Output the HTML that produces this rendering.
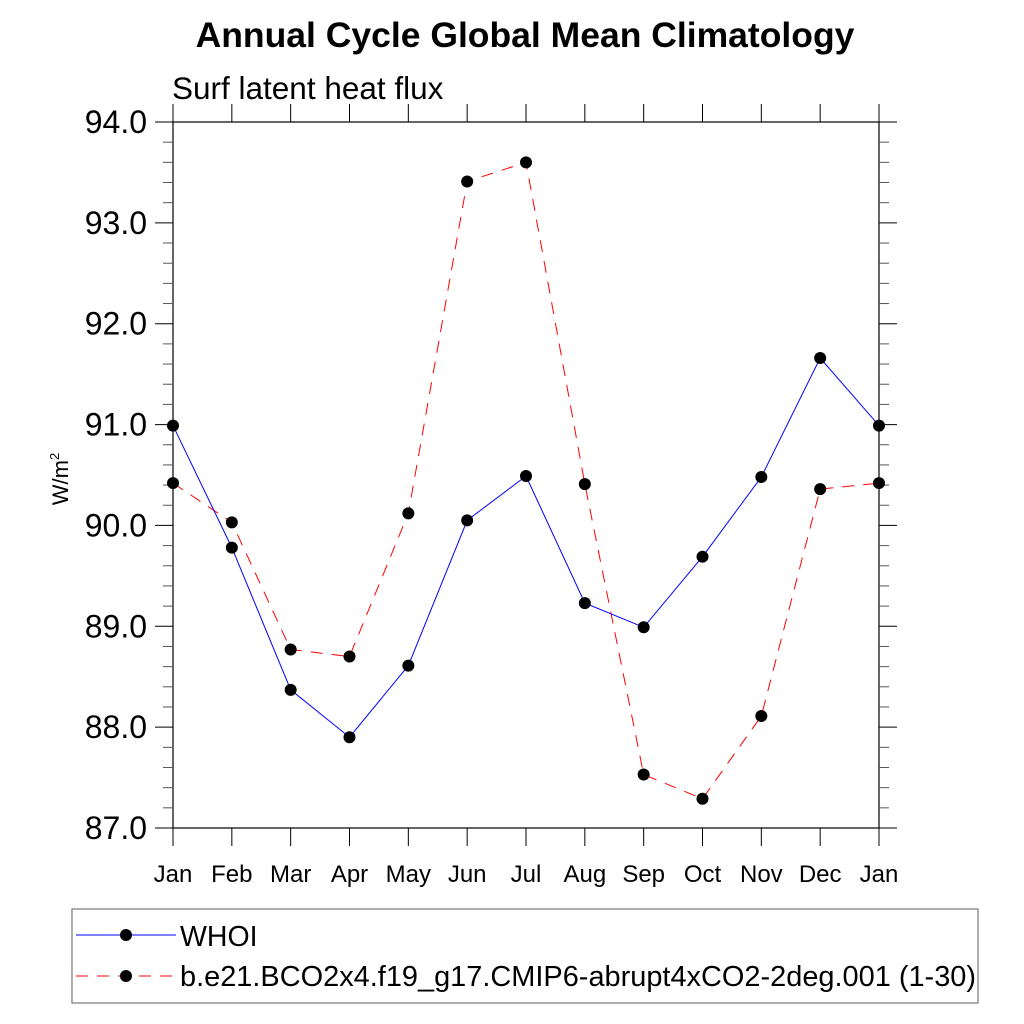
<!DOCTYPE html>
<html><head><meta charset="utf-8"><style>body{margin:0;background:#fff}svg{display:block;font-family:"Liberation Sans",sans-serif}</style></head>
<body>
<svg id="c" width="1024" height="1024" viewBox="0 0 1024 1024">
<text x="525" y="47" text-anchor="middle" font-size="35.5" font-weight="bold">Annual Cycle Global Mean Climatology</text>
<text x="172" y="99" font-size="31.5">Surf latent heat flux</text>
<text transform="translate(68,479) rotate(-90)" text-anchor="middle" font-size="22">W/m<tspan dy="-9" font-size="13">2</tspan></text>
<g id="ax"></g>
<g id="ser"></g>
<rect x="72" y="909" width="906" height="94" fill="none" stroke="#777" stroke-width="1.2"/>
<g><line x1="76" y1="935" x2="176" y2="935" stroke="#00f" stroke-width="1"/><circle cx="126" cy="935" r="6" fill="#000"/><text x="180" y="946" font-size="28.5">WHOI</text></g>
<g><line x1="76" y1="976" x2="176" y2="976" stroke="#f00" stroke-width="1" stroke-dasharray="12,9"/><circle cx="126" cy="976" r="6" fill="#000"/><text x="180" y="986" font-size="29" textLength="796" lengthAdjust="spacingAndGlyphs">b.e21.BCO2x4.f19_g17.CMIP6-abrupt4xCO2-2deg.001 (1-30)</text></g>
</svg>
<script>
const months=["Jan","Feb","Mar","Apr","May","Jun","Jul","Aug","Sep","Oct","Nov","Dec","Jan"];
const whoi=[90.99,89.78,88.37,87.90,88.61,90.05,90.49,89.23,88.99,89.69,90.48,91.66,90.99];
const model=[90.42,90.03,88.77,88.70,90.12,93.41,93.60,90.41,87.53,87.29,88.11,90.36,90.42];
const yTicks=["87.0","88.0","89.0","90.0","91.0","92.0","93.0","94.0"];
const X0=173,X1=879,Y0=828,Y1=122,YMIN=87,YMAX=94;
const xs=i=>X0+(X1-X0)*i/(months.length-1);
const ys=v=>Y0-(Y0-Y1)*(v-YMIN)/(YMAX-YMIN);
const NS="http://www.w3.org/2000/svg";
function mk(t,a,p){const e=document.createElementNS(NS,t);for(const k in a)e.setAttribute(k,a[k]);p.appendChild(e);return e;}
const ax=document.getElementById('ax'),ser=document.getElementById('ser');
const fr=mk('rect',{x:X0,y:Y1,width:X1-X0,height:Y0-Y1,fill:'none',stroke:'#000','stroke-width':1.2},ax);


months.forEach((m,i)=>{const x=xs(i);
mk('line',{x1:x,y1:Y0,x2:x,y2:Y0+18,stroke:'#000'},ax);
mk('line',{x1:x,y1:Y1,x2:x,y2:Y1-18,stroke:'#000'},ax);
const t=mk('text',{x:x,y:882,'text-anchor':'middle','font-size':24},ax);t.textContent=m;

});
for(let v=YMIN;v<=YMAX+1e-6;v+=0.2){const y=ys(v);const maj=Math.abs(v-Math.round(v))<1e-6;const L=maj?18:10;
mk('line',{x1:X0-L,y1:y,x2:X0,y2:y,stroke:maj?'#000':'#555'},ax);
mk('line',{x1:X1,y1:y,x2:X1+L,y2:y,stroke:maj?'#000':'#555'},ax);}
yTicks.forEach(s=>{const t=mk('text',{x:147,y:ys(parseFloat(s))+11,'text-anchor':'end','font-size':32},ax);t.textContent=s;

});
function series(d,col,dash,name){const g=mk('g',{},ser);


const a={points:d.map((v,i)=>xs(i)+','+ys(v)).join(' '),fill:'none',stroke:col,'stroke-width':1};if(dash)a['stroke-dasharray']=dash;mk('polyline',a,g);
d.forEach((v,i)=>{const c=mk('circle',{cx:xs(i),cy:ys(v),r:6,fill:'#000'},g);

});}
series(model,'#f00','12,9','model-series');
series(whoi,'#00f',null,'whoi-series');
</script>
</body></html>
